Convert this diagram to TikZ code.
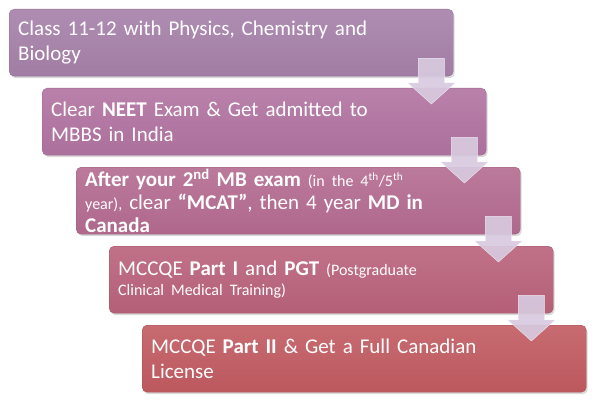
\documentclass[tikz,border=0pt]{standalone}
\usepackage{fontspec}
\setmainfont{Carlito}[WordSpace=0.85]
\usetikzlibrary{calc,shadows}

\definecolor{stepA}{HTML}{A680A9}
\definecolor{stepB}{HTML}{B173A1}
\definecolor{stepC}{HTML}{B46B90}
\definecolor{stepD}{HTML}{B9627B}
\definecolor{stepE}{HTML}{C15B61}
\definecolor{arrowc}{HTML}{D8CADF}

\newcommand{\stepfont}{\fontsize{21}{24.5}\selectfont}
\newcommand{\smallstep}{\fontsize{16}{19}\selectfont}

\tikzset{
  stepbox/.style={rectangle, rounded corners=5pt, anchor=north west,
    minimum width=444pt, minimum height=67pt, text width=426pt,
    inner xsep=9pt, inner ysep=0pt, align=left, text=white, font=\stepfont,
    draw=#1!88!black, top color=#1!90!white, bottom color=#1!97!black,
    drop shadow={shadow xshift=1.5pt, shadow yshift=-2pt, opacity=0.3}},
  bendarrow/.style={fill=arrowc, draw=white!55!arrowc, fill opacity=0.92, line join=miter}
}

% block arrow from the foot of one step into the next
\newcommand{\steparrow}[2]{
    \coordinate (#1top) at ($(#1.south east)+(-22,-18)$);
    \coordinate (#1tip) at (#1top |- #2.north);
    \draw[bendarrow] ($(#1top)+(-13,0)$) -- ($(#1top)+(13,0)$) -- ($(#1tip)+(13,-5)$)
        -- ($(#1tip)+(23.5,-5)$) -- ($(#1tip)+(0,16)$) -- ($(#1tip)+(-23.5,-5)$)
        -- ($(#1tip)+(-13,-5)$) -- cycle;
}

\begin{document}
\begin{tikzpicture}[x=1pt, y=-1pt]
    \useasboundingbox (0,0) rectangle (595,404);

    \node[stepbox=stepA] (s1) at (9,9) {Class 11-12 with Physics, Chemistry and\\ Biology};
    \node[stepbox=stepB] (s2) at (42,88) {Clear \textbf{NEET} Exam \& Get admitted to\\ MBBS in India};
    \node[stepbox=stepC, inner xsep=6pt] (s3) at (76,167) {\textbf{After your 2\textsuperscript{nd} MB exam} {\smallstep (in the 4\textsuperscript{th}/5\textsuperscript{th}}\\[-1.5pt]
        {\smallstep year),} clear \textbf{“MCAT”}, then 4 year \textbf{MD in}\\[-1.5pt] \textbf{Canada}};
    \node[stepbox=stepD, inner xsep=7pt] (s4) at (109,246) {MCCQE \textbf{Part I} and \textbf{PGT} {\smallstep (Postgraduate}\\[-5pt]
        {\smallstep Clinical Medical Training)}};
    \node[stepbox=stepE] (s5) at (142,325) {MCCQE \textbf{Part II} \& Get a Full Canadian\\ License};

    \steparrow{s1}{s2}
    \steparrow{s2}{s3}
    \steparrow{s3}{s4}
    \steparrow{s4}{s5}

\end{tikzpicture}
\end{document}
